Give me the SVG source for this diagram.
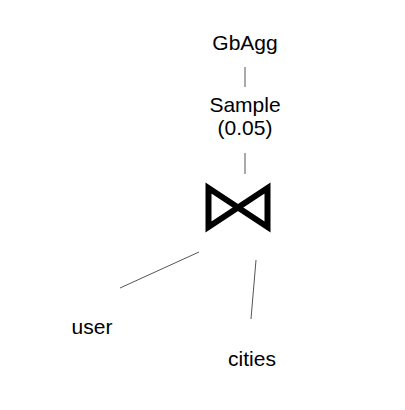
<svg xmlns="http://www.w3.org/2000/svg" width="405" height="410" viewBox="0 0 405 410">
<style>
.t{font-family:"Liberation Sans",Arial,sans-serif;font-size:21px;fill:#000;text-anchor:middle}
.e{stroke:#555;stroke-width:1;fill:none}
</style>
<rect width="405" height="410" fill="#fff"/>
<g id="connectors">
<line class="e" x1="245" y1="67" x2="245" y2="87"/>
<line class="e" x1="245" y1="153" x2="245" y2="174"/>
<line class="e" x1="199" y1="252" x2="120" y2="288"/>
<line class="e" x1="256" y1="260" x2="251" y2="319"/>
</g>
<g id="gbagg"><text class="t" x="245" y="50">GbAgg</text></g>
<g id="sample"><text class="t" x="245" y="112">Sample</text><text class="t" x="245" y="135">(0.05)</text></g>
<g id="join"><path d="M208.5,188 L208.5,227 L267.5,188 L267.5,227 Z" fill="none" stroke="#000" stroke-width="6" stroke-linejoin="miter"/></g>
<g id="user"><text class="t" x="92" y="334">user</text></g>
<g id="cities"><text class="t" x="252" y="366">cities</text></g>
</svg>
